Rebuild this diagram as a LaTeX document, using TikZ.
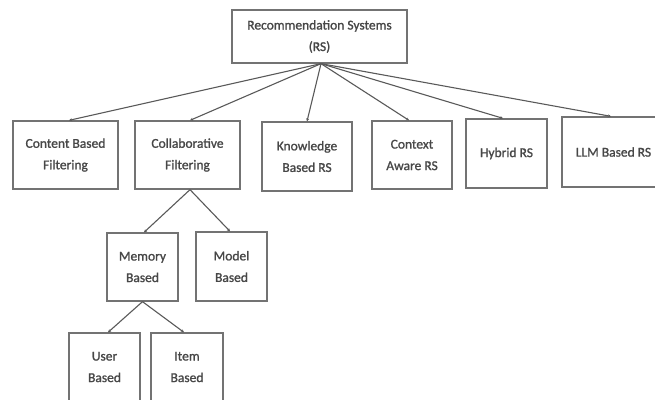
\documentclass[tikz,border=0pt]{standalone}
\usepackage{fontspec}
\setmainfont{Carlito}
\newfontfamily\boxfont{Carlito}[FakeBold=1.2]
\usetikzlibrary{arrows.meta}
\begin{document}
\begin{tikzpicture}[x=1pt,y=-1pt,
  box/.style={draw=black!55,line width=1.3pt,fill=white,inner sep=0pt,align=center,
    text=black!72,font=\boxfont\fontsize{13.5}{21.5}\selectfont},
  link/.style={draw=black!65,line width=1.1pt,-{Stealth[length=3pt,width=3pt]}}]
\useasboundingbox (0,0) rectangle (655,399);
\clip (0,0) rectangle (655,399);
\node[box,minimum width=175pt,minimum height=53pt] (root) at (319.5,36.5) {Recommendation Systems\\(RS)};
\node[box,minimum width=105pt,minimum height=68pt] (content) at (65.5,155) {Content Based\\Filtering};
\node[box,minimum width=105pt,minimum height=68pt] (collab) at (187.5,155) {Collaborative\\Filtering};
\node[box,minimum width=90pt,minimum height=69pt] (know) at (307,156.5) {Knowledge\\Based RS};
\node[box,minimum width=80pt,minimum height=68pt] (context) at (412,155) {Context\\Aware RS};
\node[box,minimum width=81pt,minimum height=69pt] (hybrid) at (506.5,153.5) {Hybrid RS};
\node[box,minimum width=103pt,minimum height=70pt] (llm) at (613.5,152) {LLM Based RS};
\node[box,minimum width=71pt,minimum height=68pt] (memory) at (142.5,267) {Memory\\Based};
\node[box,minimum width=71pt,minimum height=69pt] (model) at (231.5,266.5) {Model\\Based};
\node[box,minimum width=71pt,minimum height=68pt] (user) at (104.5,367) {User\\Based};
\node[box,minimum width=72pt,minimum height=68pt] (item) at (187,367) {Item\\Based};
\coordinate (r) at ([xshift=1.5pt]root.south);
\draw[link] (r) -- ([xshift=3.5pt]content.north);
\draw[link] (r) -- ([xshift=2.5pt]collab.north);
\draw[link] (r) -- (know.north);
\draw[link] (r) -- ([xshift=-3pt]context.north);
\draw[link] (r) -- ([xshift=-3.5pt]hybrid.north);
\draw[link] (r) -- ([xshift=-2.5pt]llm.north);
\coordinate (c) at ([xshift=2.5pt]collab.south);
\draw[link] (c) -- ([xshift=1.5pt]memory.north);
\draw[link] (c) -- ([xshift=-1.5pt]model.north);
\draw[link] (memory.south) -- ([xshift=3.5pt]user.north);
\draw[link] (memory.south) -- ([xshift=-3pt]item.north);
\end{tikzpicture}
\end{document}
